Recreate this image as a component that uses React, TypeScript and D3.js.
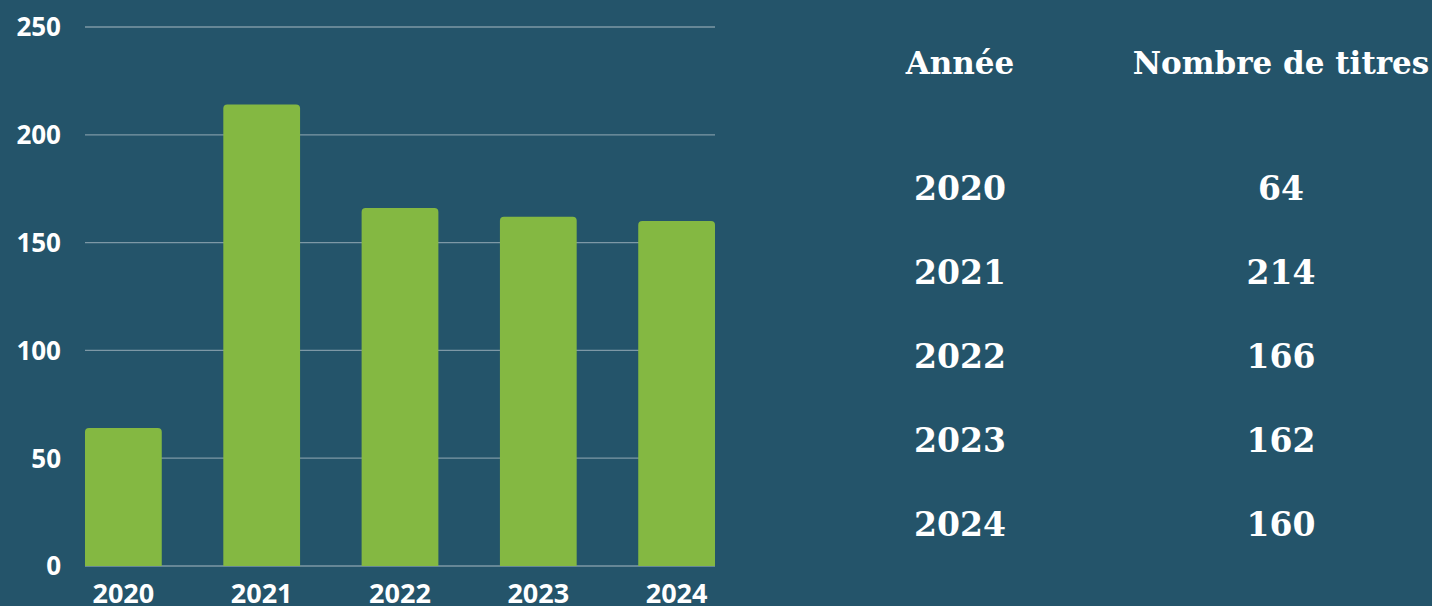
import React, { useEffect, useRef } from 'react'
import * as d3 from 'd3'

const years = ['2020', '2021', '2022', '2023', '2024']
const titles = [64, 214, 166, 162, 160]
const yTicks = [0, 50, 100, 150, 200, 250]
const tableHeaders = ['Année', 'Nombre de titres']

const W = 1432
const H = 606

export default function App() {
  const ref = useRef<SVGSVGElement>(null)

  useEffect(() => {
    const svg = d3.select(ref.current)
    svg.selectAll('*').remove()

    svg.append('rect').attr('width', W).attr('height', H).attr('fill', '#24546a')

    const x = d3.scaleBand().domain(years).range([85, 715]).paddingInner(0.445).paddingOuter(0)
    const y = d3.scaleLinear().domain([0, 250]).range([566, 27])

    // grid
    svg.append('g')
      .selectAll('line')
      .data(yTicks)
      .enter()
      .append('line')
      .attr('x1', 85)
      .attr('x2', 715)
      .attr('y1', d => y(d))
      .attr('y2', d => y(d))
      .attr('stroke', '#7d98a6')
      .attr('stroke-width', 1.3)

    // y labels
    svg.append('g')
      .selectAll('text')
      .data(yTicks)
      .enter()
      .append('text')
      .attr('x', 61)
      .attr('y', d => y(d))
      .attr('dy', '0.36em')
      .attr('text-anchor', 'end')
      .attr('font-family', '"Open Sans", sans-serif')
      .attr('font-weight', 'bold')
      .attr('font-size', 26)
      .attr('fill', 'white')
      .text(d => d)

    // bars, rounded top only
    const r = 4
    svg.append('g')
      .selectAll('path')
      .data(titles)
      .enter()
      .append('path')
      .attr('fill', '#84b842')
      .attr('d', (d, i) => {
        const x0 = x(years[i]) as number
        const w = x.bandwidth()
        const top = y(d)
        const bot = y(0)
        return `M${x0},${bot}V${top + r}Q${x0},${top} ${x0 + r},${top}H${x0 + w - r}Q${x0 + w},${top} ${x0 + w},${top + r}V${bot}Z`
      })

    // x labels
    svg.append('g')
      .selectAll('text')
      .data(years)
      .enter()
      .append('text')
      .attr('x', d => (x(d) as number) + x.bandwidth() / 2)
      .attr('y', 603)
      .attr('text-anchor', 'middle')
      .attr('font-family', '"Open Sans", sans-serif')
      .attr('font-weight', 'bold')
      .attr('font-size', 27)
      .attr('fill', 'white')
      .text(d => d)

    // table
    const colX = [960, 1281]
    const rowY = d3.scalePoint().domain(years).range([188, 524])
    svg.append('g')
      .selectAll('text')
      .data(tableHeaders)
      .enter()
      .append('text')
      .attr('x', (d, i) => colX[i])
      .attr('y', 63)
      .attr('dy', '0.35em')
      .attr('text-anchor', 'middle')
      .attr('font-family', '"DejaVu Serif", serif')
      .attr('font-weight', 'bold')
      .attr('font-size', 31)
      .attr('fill', 'white')
      .text(d => d)

    const rows = svg.append('g')
      .selectAll('g')
      .data(years)
      .enter()
      .append('g')
    rows.append('text')
      .attr('x', colX[0])
      .attr('y', d => rowY(d) as number)
      .attr('dy', '0.35em')
      .attr('text-anchor', 'middle')
      .attr('font-family', '"DejaVu Serif", serif')
      .attr('font-weight', 'bold')
      .attr('font-size', 33)
      .attr('fill', 'white')
      .text(d => d)
    rows.append('text')
      .attr('x', colX[1])
      .attr('y', d => rowY(d) as number)
      .attr('dy', '0.35em')
      .attr('text-anchor', 'middle')
      .attr('font-family', '"DejaVu Serif", serif')
      .attr('font-weight', 'bold')
      .attr('font-size', 33)
      .attr('fill', 'white')
      .text((d, i) => titles[i])
  }, [])

  return (
    <div style={{ position: 'absolute', left: 0, top: 0 }}>
      <svg ref={ref} width={W} height={H} style={{ display: 'block' }} />
    </div>
  )
}
